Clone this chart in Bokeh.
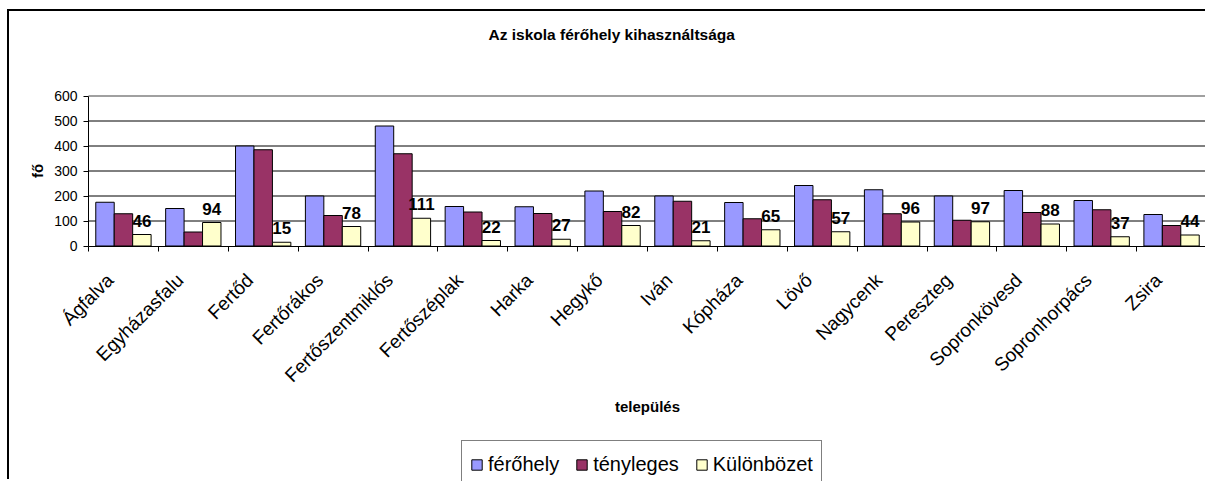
import math
from bokeh.plotting import figure
from bokeh.models import (Range1d, FixedTicker, CustomJSTickFormatter, Legend, LegendItem, Title)
from bokeh.core.properties import value
from bokeh.embed import file_html
from bokeh.resources import INLINE

categories = ["Ágfalva", "Egyházasfalu", "Fertőd", "Fertőrákos", "Fertőszentmiklós",
              "Fertőszéplak", "Harka", "Hegykő", "Iván", "Kópháza", "Lövő",
              "Nagycenk", "Pereszteg", "Sopronkövesd", "Sopronhorpács", "Zsira"]
ferohely = [175, 150, 400, 200, 480, 158, 157, 220, 200, 174, 242, 225, 200, 222, 182, 126]
tenyleges = [129, 56, 385, 122, 369, 136, 130, 138, 179, 109, 185, 129, 103, 134, 145, 82]
kulonbozet = [46, 94, 15, 78, 111, 22, 27, 82, 21, 65, 57, 96, 97, 88, 37, 44]
y_ticks = [0, 100, 200, 300, 400, 500, 600]
series_names = ["férőhely", "tényleges", "Különbözet"]
colors = ["#9999FF", "#993366", "#FFFFCC"]

FONT = "Liberation Sans"
n = len(categories)
y_max = y_ticks[-1]
centers = [i + 0.5 for i in range(n)]
bw = 0.264

# layout constants (pixels)
W, H = 1198, 470
PLOT_LEFT = 79          # where x = 0 sits on the canvas
CAT_PX = 1118 / n       # width of one category
TOP = 70                # frame top on the canvas
Y600 = 84.5             # where 600 sits on the canvas
PX_PER_UNIT = 0.25      # 150 px for 600

y_end = y_max + (Y600 - TOP) / PX_PER_UNIT
x_range = Range1d(-PLOT_LEFT / CAT_PX, (W - PLOT_LEFT) / CAT_PX)
y_range = Range1d(y_end - (H - TOP) / PX_PER_UNIT, y_end)

# The frame fills the canvas under the title; both axes are fixed at 0 and bounded,
# so the rotated labels, the axis titles and the legend are all inside the frame.
p = figure(width=W, height=H, output_backend="svg", toolbar_location=None,
           x_range=x_range, y_range=y_range,
           min_border_left=0, min_border_right=0, min_border_top=TOP, min_border_bottom=0)
p.margin = (9, 0, 0, 7)
p.styles = {"border-left": "2px solid black", "border-top": "2px solid black"}
p.background_fill_color = "white"
p.border_fill_color = "white"
p.outline_line_color = None
p.xgrid.grid_line_color = None
p.ygrid.grid_line_color = None

spacer = Title(text=" ", standoff=22, text_font=FONT, text_font_size="13px")
p.add_layout(spacer, "above")
title = Title(text="Az iskola férőhely kihasználtsága", align="left", offset=479,
              standoff=0, text_font=FONT, text_font_size="15.5px", text_font_style="bold",
              text_color="black")
p.add_layout(title, "above")

# plot-area gridlines (black) and plot-area border (grey), limited to the 0..n x 0..600 area
grid_vals = y_ticks[1:-1]
p.segment(x0=[0] * len(grid_vals), y0=grid_vals, x1=[n] * len(grid_vals), y1=grid_vals,
          line_color="black", line_width=1)
p.segment(x0=[0, n], y0=[y_max, 0], x1=[n, n], y1=[y_max, y_max],
          line_color="#808080", line_width=1.5)

renderers = []
for k, (vals, col) in enumerate(zip([ferohely, tenyleges, kulonbozet], colors)):
    xs = [c + (k - 1) * bw for c in centers]
    r = p.vbar(x=xs, top=vals, bottom=0, width=bw, fill_color=col,
               line_color="black", line_width=1)
    renderers.append(r)

label_x = [c + bw for c in centers]
p.text(x=label_x, y=kulonbozet, text=[str(v) for v in kulonbozet],
       text_font=value(FONT), text_font_style="bold", text_font_size="17px",
       text_align="center", text_baseline="alphabetic", y_offset=-14, text_color="black")

# y axis, fixed at x = 0
p.yaxis.fixed_location = 0
p.yaxis.bounds = (0, y_max)
p.yaxis.ticker = FixedTicker(ticks=y_ticks)
p.yaxis.major_tick_out = 5
p.yaxis.major_tick_in = 0
p.yaxis.minor_tick_line_color = None
p.yaxis.major_label_text_font = FONT
p.yaxis.major_label_text_font_size = "14px"
p.yaxis.major_label_text_color = "black"
p.yaxis.major_label_standoff = 6
p.yaxis.axis_line_color = "black"
p.yaxis.major_tick_line_color = "black"

# y axis title, centred on the 0..600 value span
p.text(x=[0], y=[y_max / 2], text=["fő"], angle=math.pi / 2, x_offset=-51,
       text_font=value(FONT), text_font_style="bold", text_font_size="15px",
       text_align="center", text_baseline="middle", text_color="black")

# x axis: fixed at y = 0, ticks at category borders, labels a little left of centre
label_ticks = [i + 0.31 for i in range(n)]
p.xaxis.fixed_location = 0
p.xaxis.bounds = (0, n)
p.xaxis.ticker = FixedTicker(ticks=label_ticks, minor_ticks=list(range(n + 1)))
p.xaxis.formatter = CustomJSTickFormatter(args=dict(names=categories),
                                          code="return names[Math.floor(tick)] || '';")
p.xaxis.major_label_orientation = math.pi / 4
p.xaxis.major_tick_line_color = None
p.xaxis.major_tick_out = 5
p.xaxis.major_tick_in = 0
p.xaxis.minor_tick_out = 5
p.xaxis.minor_tick_in = 0
p.xaxis.minor_tick_line_color = "black"
p.xaxis.axis_line_color = "black"
p.xaxis.major_label_text_font = FONT
p.xaxis.major_label_text_font_size = "19px"
p.xaxis.major_label_text_color = "black"
p.xaxis.major_label_standoff = 26
p.xaxis.axis_label = "település"
p.xaxis.axis_label_text_font = FONT
p.xaxis.axis_label_text_font_size = "15px"
p.xaxis.axis_label_text_font_style = "bold"
p.xaxis.axis_label_text_color = "black"
p.xaxis.axis_label_standoff = 1

legend = Legend(items=[LegendItem(label=nm, renderers=[r]) for nm, r in zip(series_names, renderers)],
                orientation="horizontal", location=(452, -7),
                label_text_font=FONT, label_text_font_size="20px", label_text_color="black",
                glyph_width=13, glyph_height=13, label_standoff=5, spacing=16,
                padding=8, label_height=30, margin=0,
                border_line_color="black", border_line_width=1,
                background_fill_color="white", background_fill_alpha=1)
p.add_layout(legend)

open("out.html", "w").write(file_html(p, INLINE))
